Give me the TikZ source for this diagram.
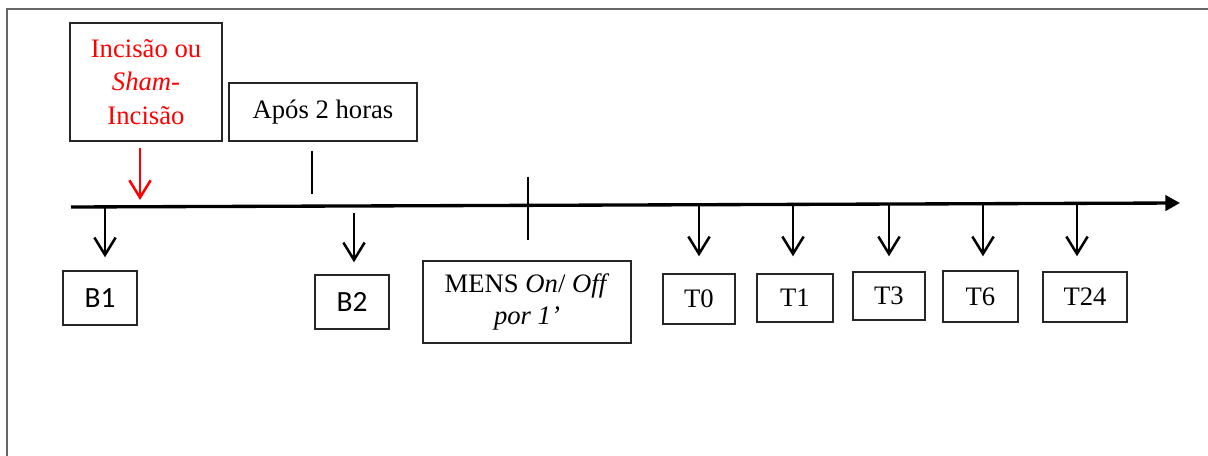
\documentclass[tikz,border=0pt]{standalone}
\usepackage{fontspec}
\setmainfont{Liberation Serif}
\newfontfamily\calfont{Carlito}
\usetikzlibrary{arrows.meta,calc}
\begin{document}
\begin{tikzpicture}[x=0.75pt,y=-0.75pt,
  box/.style={draw=black!85,line width=1.1pt,inner sep=0pt,align=center,
    font=\fontsize{20}{25}\selectfont},
  downarrow/.style={line width=1.9pt,-{Straight Barb[length=13pt,width=16pt,line width=1.9pt]}},
  tickline/.style={line width=1.8pt},
  frameline/.style={draw=black!60,line width=1pt}]
\useasboundingbox (0,0) rectangle (1208,456);
% frame
\draw[frameline] (7,456) -- (7,9) -- (1208,9);
% boxes
\node[box,text=red,minimum width=114pt,minimum height=88.5pt] (inc) at (146,82)
  {Incisão ou\\\textit{Sham}-\\Incisão};
\node[box,minimum width=141pt,minimum height=43.5pt] (apos) at (323,112) {Após 2 horas};
\node[box,font=\calfont\fontsize{22}{25}\selectfont,minimum width=55.5pt,minimum height=40.5pt] (b1) at (100,298) {B1};
\node[box,font=\calfont\fontsize{22}{25}\selectfont,minimum width=55.5pt,minimum height=40.5pt] (b2) at (352,302) {B2};
\node[box,font=\fontsize{20}{23.5}\selectfont,minimum width=156pt,minimum height=61.5pt] (mens) at (527,302)
  {MENS \textit{On}/ \textit{Off}\\\textit{por 1’}};
\node[box,minimum width=54pt,minimum height=37.5pt] (t0) at (699,299) {T0};
\node[box,minimum width=57pt,minimum height=36pt] (t1) at (795,298) {T1};
\node[box,minimum width=54pt,minimum height=36pt] (t3) at (889,296) {T3};
\node[box,minimum width=56.25pt,minimum height=38.25pt] (t6) at (980.5,296.5) {T6};
\node[box,minimum width=63pt,minimum height=37.5pt] (t24) at (1085,297) {T24};
% timeline
\coordinate (ls) at (71,207);
\coordinate (le) at (1180,203);
\draw[line width=2.5pt,-{Triangle[length=11pt,width=11.5pt]}] (ls) -- (le);
% ticks
\coordinate (k1a) at (312,151);
\coordinate (k1b) at (312,194);
\coordinate (k2a) at (528,177);
\coordinate (k2b) at (528,240);
\draw[tickline] (k1a) -- (k1b);
\draw[tickline] (k2a) -- (k2b);
% red arrow
\coordinate (r0) at (140,148);
\coordinate (r1) at (140,200);
\draw[downarrow,draw=red] (r0) -- (r1);
% down arrows
\coordinate (a1) at (105,207);
\coordinate (a2) at (354,213);
\coordinate (a3) at (699,206);
\coordinate (a4) at (793,206);
\coordinate (a5) at (889,205);
\coordinate (a6) at (983,204);
\coordinate (a7) at (1077,204);
\draw[downarrow] (a1) -- ($(a1 |- b1.north)+(0,-13)$);
\draw[downarrow] (a2) -- ($(a2 |- b2.north)+(0,-12)$);
\draw[downarrow] (a3) -- ($(a3 |- t0.north)+(0,-17)$);
\draw[downarrow] (a4) -- ($(a4 |- t1.north)+(0,-17)$);
\draw[downarrow] (a5) -- ($(a5 |- t3.north)+(0,-15)$);
\draw[downarrow] (a6) -- ($(a6 |- t6.north)+(0,-14)$);
\draw[downarrow] (a7) -- ($(a7 |- t24.north)+(0,-15)$);
\end{tikzpicture}
\end{document}
